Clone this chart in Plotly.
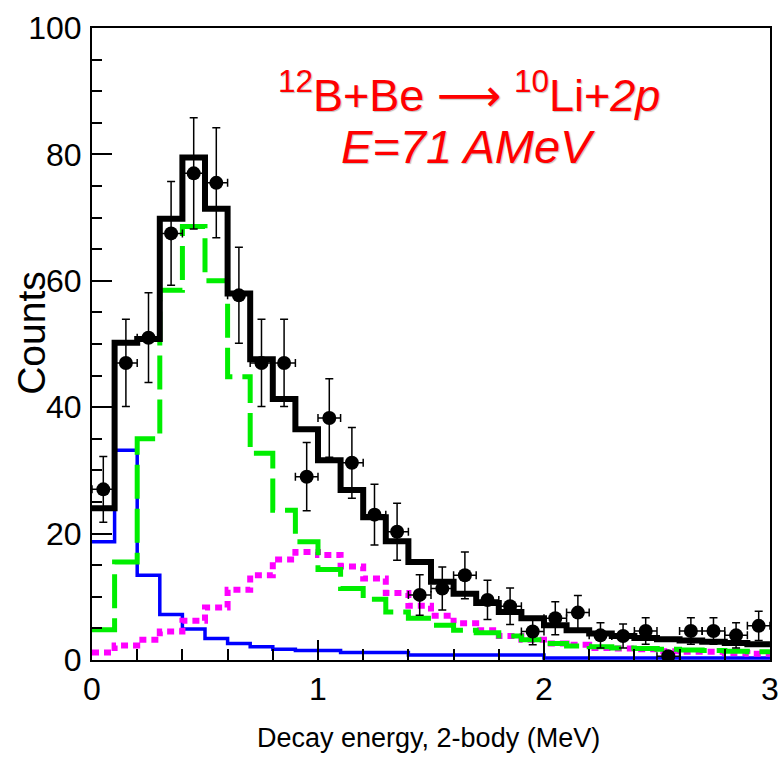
import plotly.graph_objects as go

# ---- data ----
bin_edges = [0.0, 0.1, 0.2, 0.3, 0.4, 0.5, 0.6, 0.7, 0.8, 0.9, 1.0,
             1.1, 1.2, 1.3, 1.4, 1.5, 1.6, 1.7, 1.8, 1.9, 2.0,
             2.1, 2.2, 2.3, 2.4, 2.5, 2.6, 2.7, 2.8, 2.9, 3.0]
bin_centers = [0.05, 0.15, 0.25, 0.35, 0.45, 0.55, 0.65, 0.75, 0.85, 0.95,
               1.05, 1.15, 1.25, 1.35, 1.45, 1.55, 1.65, 1.75, 1.85, 1.95,
               2.05, 2.15, 2.25, 2.35, 2.45, 2.55, 2.65, 2.75, 2.85, 2.95]

data_counts = [27.0, 47.0, 51.0, 67.5, 77.0, 75.5, 57.7, 47.0, 47.0, 29.0,
               38.3, 31.2, 23.0, 20.3, 10.3, 11.3, 13.4, 9.5, 8.5, 4.5,
               6.6, 7.5, 3.9, 3.8, 4.6, 0.6, 4.6, 4.6, 3.9, 5.4]
data_errors = [5.2, 6.9, 7.1, 8.2, 8.8, 8.7, 7.6, 6.9, 6.9, 5.4,
               6.2, 5.6, 4.8, 4.5, 3.2, 3.4, 3.7, 3.1, 2.9, 2.1,
               2.6, 2.7, 2.0, 1.9, 2.1, 0.6, 2.1, 2.1, 2.0, 2.3]

total_fit = [24.0, 50.2, 50.8, 69.8, 79.5, 71.4, 58.0, 47.6, 41.3, 36.5,
             31.6, 26.9, 22.6, 18.8, 15.5, 12.4, 10.5, 9.0, 7.6, 6.6,
             5.5, 4.7, 4.2, 3.8, 3.5, 3.3, 3.1, 2.9, 2.7, 2.5]
green_comp = [4.8, 15.5, 35.0, 58.5, 68.6, 60.0, 44.8, 32.7, 23.7, 18.7,
              14.3, 11.3, 9.6, 7.6, 6.6, 5.5, 4.7, 4.3, 3.8, 3.2,
              2.6, 2.2, 2.1, 1.9, 1.8, 1.7, 1.6, 1.5, 1.4, 1.3]
magenta_comp = [1.2, 2.3, 3.2, 4.5, 6.2, 8.3, 11.1, 13.4, 15.9, 17.1,
                16.6, 14.8, 12.9, 10.6, 8.6, 7.0, 5.8, 4.7, 3.8, 3.2,
                2.6, 2.4, 1.9, 1.8, 1.7, 1.4, 1.3, 1.3, 1.1, 1.0]
blue_comp = [18.7, 33.2, 13.4, 7.2, 4.9, 3.4, 2.6, 2.1, 1.7, 1.5,
             1.5, 1.2, 1.2, 1.2, 0.8, 0.8, 0.8, 0.8, 0.8, 0.8,
             0.3, 0.3, 0.3, 0.3, 0.3, 0.3, 0.3, 0.3, 0.3, 0.3]

x_tick_vals = [0, 1, 2, 3]
x_tick_text = ["0", "1", "2", "3"]
y_tick_vals = [0, 20, 40, 60, 80, 100]
y_tick_text = ["0", "20", "40", "60", "80", "100"]

# ---- figure ----
W, H = 784, 758
ML, MR, MT, MB = 92, 5, 28, 98
PW, PH = W - ML - MR, H - MT - MB

SANS = "Liberation Sans, Arial, Helvetica, sans-serif"


def step(vals):
    return list(bin_edges), list(vals) + [vals[-1]]


fig = go.Figure()

for vals, color, width, dash in [
    (blue_comp, "#0000ff", 3.5, "solid"),
    (magenta_comp, "#ff00ff", 6, "7px,5px"),
    (green_comp, "#00ee00", 5, "34px,10px"),
    (total_fit, "#000000", 6, "solid"),
]:
    xs, ys = step(vals)
    fig.add_trace(go.Scatter(x=xs, y=ys, mode="lines", line_shape="hv",
                             line=dict(color=color, width=width, dash=dash),
                             hoverinfo="skip", showlegend=False))

fig.add_trace(go.Scatter(
    x=bin_centers, y=data_counts, mode="markers",
    marker=dict(symbol="circle", size=14, color="black"),
    error_y=dict(type="data", array=data_errors, visible=True,
                 color="black", thickness=1.5, width=4),
    error_x=dict(type="constant", value=0.05, visible=True,
                 color="black", thickness=1.5, width=4),
    showlegend=False))


def px_to_paper_x(px):
    return (px - ML) / PW


def px_to_paper_y(py):
    return (H - MB - py) / PH


annotations = [
    dict(text="Counts", x=px_to_paper_x(30), y=px_to_paper_y(333),
         xref="paper", yref="paper", showarrow=False, textangle=-90,
         xanchor="center", yanchor="middle",
         font=dict(family=SANS, size=39, color="black")),
    dict(text="Decay energy, 2-body (MeV)", x=px_to_paper_x(433),
         y=px_to_paper_y(738), xref="paper", yref="paper", showarrow=False,
         xanchor="center", yanchor="middle",
         font=dict(family=SANS, size=27, color="black")),
    dict(text="<sup>12</sup>B+Be <span style='font-family:DejaVu Sans'>\u27F6</span> "
              "<sup>10</sup>Li+<i>2p</i>",
         x=px_to_paper_x(474), y=px_to_paper_y(92), xref="paper", yref="paper",
         showarrow=False, xanchor="center", yanchor="middle",
         font=dict(family=SANS, size=45, color="#ff0000",
                   shadow="1px 1px 1px rgba(0,0,0,0.25)")),
    dict(text="<i>E=71 AMeV</i>",
         x=px_to_paper_x(473), y=px_to_paper_y(146), xref="paper", yref="paper",
         showarrow=False, xanchor="center", yanchor="middle",
         font=dict(family=SANS, size=47, color="#ff0000",
                   shadow="1px 1px 1px rgba(0,0,0,0.25)")),
]

fig.update_layout(
    width=W, height=H,
    margin=dict(l=ML, r=MR, t=MT, b=MB, pad=0),
    paper_bgcolor="white", plot_bgcolor="white",
    showlegend=False,
    annotations=annotations,
    xaxis=dict(range=[0, 3.0001], showgrid=False, zeroline=False,
               showline=True, linecolor="black", linewidth=2, mirror=True,
               ticks="inside", ticklen=20, tickwidth=1.5, tickcolor="black",
               tickvals=x_tick_vals, ticktext=x_tick_text,
               ticklabeloverflow="allow",
               minor=dict(dtick=0.2, ticks="inside", ticklen=11,
                          tickwidth=1.5, tickcolor="black", showgrid=False),
               tickfont=dict(family=SANS, size=32, color="black")),
    yaxis=dict(range=[0, 100], showgrid=False, zeroline=False,
               showline=True, linecolor="black", linewidth=2, mirror=True,
               ticks="inside", ticklen=20, tickwidth=1.5, tickcolor="black",
               tickvals=y_tick_vals, ticktext=y_tick_text,
               minor=dict(dtick=5, ticks="inside", ticklen=10,
                          tickwidth=1.5, tickcolor="black", showgrid=False),
               ticklabelstandoff=2,
               tickfont=dict(family=SANS, size=32, color="black")),
)

fig.write_html("out.html")
